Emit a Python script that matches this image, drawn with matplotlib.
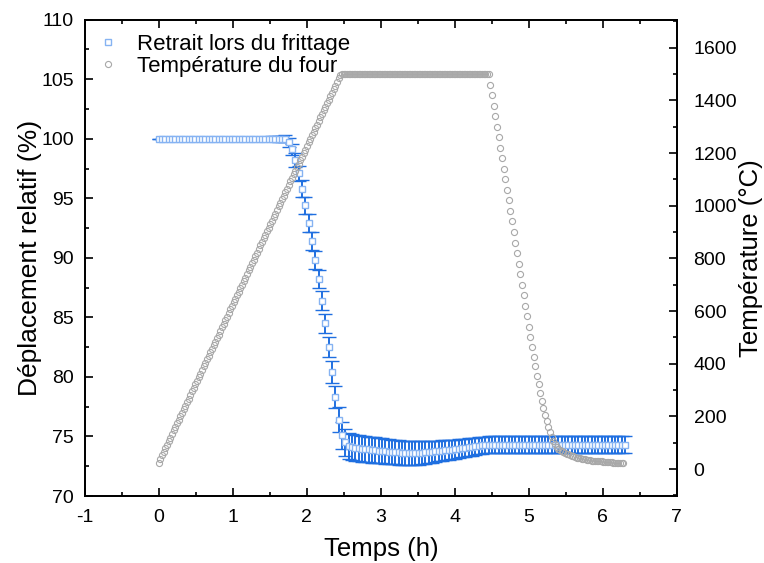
import numpy as np
import matplotlib
matplotlib.use("Agg")
import matplotlib.pyplot as plt
from matplotlib.ticker import MultipleLocator

plt.rcParams['font.family'] = ['Liberation Sans', 'DejaVu Sans']
plt.rcParams['axes.unicode_minus'] = False

dt_temp = 0.0225
dt_retrait = 0.045

# furnace temperature (°C), one value per sample
temp_ramp = [25, 39, 52, 66, 79, 93, 106, 120, 133, 147, 160, 174, 187, 201, 214, 228,
             241, 255, 268, 282, 295, 309, 322, 336, 349, 363, 376, 390, 403, 417, 430,
             444, 457, 471, 484, 498, 511, 525, 538, 552, 565, 579, 592, 606, 619, 633,
             646, 660, 673, 687, 700, 714, 727, 741, 754, 768, 781, 795, 808, 822, 835,
             849, 862, 876, 889, 903, 916, 930, 943, 957, 970, 984, 997, 1011, 1024, 1038,
             1051, 1065, 1078, 1092, 1105, 1119, 1132, 1146, 1159, 1173, 1186, 1200, 1213,
             1227, 1240, 1254, 1267, 1281, 1294, 1308, 1321, 1335, 1348, 1362, 1375, 1389,
             1402, 1416, 1429, 1443, 1456, 1470, 1483, 1497]
temp_palier = [1500] * 89
temp_refroid = [1460, 1420, 1380, 1340, 1300, 1260, 1220, 1180, 1140, 1100, 1060, 1020,
                980, 940, 900, 860, 820, 780, 740, 700, 660, 620, 580, 540, 500, 462, 425,
                390, 355, 322, 290, 260, 232, 206, 182, 160, 140, 122, 107, 95, 85, 78,
                73, 69, 65, 62, 59, 56, 53, 50, 48, 46, 44, 42, 41, 39, 38, 37, 35, 34, 33,
                32, 32, 31, 30, 30, 29, 29, 28, 28, 27, 27, 26, 26, 25, 25, 25, 24, 24, 24, 23]
temperature = temp_ramp + temp_palier + temp_refroid

# relative displacement (%) and its error
depl_avant = [100.0] * 38
depl_chute = [100.0, 99.7, 99.1, 98.2, 97.1, 95.8, 94.4, 92.9, 91.4, 89.8, 88.2, 86.4,
              84.5, 82.5, 80.4, 78.3, 76.4, 75.1, 74.5, 74.2]
depl_apres = [74.1, 74.05, 74.0, 73.97, 73.94, 73.91, 73.88, 73.85, 73.82, 73.79, 73.76,
              73.73, 73.7, 73.68, 73.66, 73.64, 73.62, 73.61, 73.6, 73.6, 73.61, 73.63,
              73.66, 73.69, 73.72, 73.75, 73.78, 73.81, 73.84, 73.87, 73.9, 73.94, 73.98,
              74.02, 74.06, 74.1, 74.14, 74.18, 74.22, 74.26, 74.29, 74.31] + [74.3] * 41
deplacement = depl_avant + depl_chute + depl_apres

err_avant = [0.0] * 20 + [0.08, 0.09, 0.10, 0.10, 0.11, 0.12, 0.12, 0.13, 0.14, 0.15,
                          0.16, 0.17, 0.18, 0.19, 0.20, 0.22, 0.24, 0.26]
err_chute = [0.3, 0.4, 0.5, 0.6, 0.65, 0.7, 0.72, 0.75, 0.75, 0.75, 0.76, 0.78, 0.8,
             0.85, 0.9, 0.95, 1.05, 1.15, 1.15, 1.12]
err_apres = [1.10, 1.10, 1.09, 1.09, 1.08, 1.08, 1.07, 1.07, 1.06, 1.06, 1.05, 1.05,
             1.04, 1.03, 1.03, 1.02, 1.01, 1.00, 0.99, 0.98, 0.97, 0.95, 0.94, 0.92,
             0.91, 0.89, 0.88, 0.86, 0.85, 0.83, 0.82, 0.80, 0.79, 0.78, 0.76, 0.75,
             0.74, 0.73, 0.72, 0.71, 0.70, 0.70] + [0.70] * 41
erreur = err_avant + err_chute + err_apres

t_temp = np.arange(len(temperature)) * dt_temp
t_depl = np.arange(len(deplacement)) * dt_retrait

bleu_fonce = '#1f6fe0'
bleu_clair = '#86b3f2'
gris = '#a8a8a8'

fig = plt.figure(figsize=(7.64, 5.63), dpi=100)
ax = fig.add_axes([0.111, 0.119, 0.775, 0.846])
ax2 = ax.twinx()

eb = ax.errorbar(t_depl, deplacement, yerr=erreur, fmt='s', ms=4.3, mfc='white',
                 mec=bleu_clair, mew=1.0, ecolor=bleu_fonce, elinewidth=1.4, capsize=5.0,
                 capthick=1.4, label='Retrait lors du frittage')
ax2.plot(t_temp, temperature, 'o', ms=4.4, mfc='none', mec=gris, mew=0.8,
         label='Température du four')

ax.set_xlim(-1, 7)
ax.set_ylim(70, 110)
ax2.set_ylim(-102, 1706)
ax.xaxis.set_major_locator(MultipleLocator(1))
ax.xaxis.set_minor_locator(MultipleLocator(0.5))
ax.yaxis.set_major_locator(MultipleLocator(5))
ax.yaxis.set_minor_locator(MultipleLocator(2.5))
ax2.yaxis.set_major_locator(MultipleLocator(200))
ax2.yaxis.set_minor_locator(MultipleLocator(100))

ax.tick_params(which='both', direction='in', top=True, width=1.2, labelsize=14)
ax.tick_params(axis='x', pad=9)
ax.tick_params(axis='y', pad=8)
ax.tick_params(which='major', length=6)
ax.tick_params(which='minor', length=3)
ax2.tick_params(which='both', direction='in', width=1.2, labelsize=14, pad=12)
ax2.tick_params(which='major', length=6)
ax2.tick_params(which='minor', length=3)
for a in (ax, ax2):
    for s in a.spines.values():
        s.set_linewidth(1.3)

ax.set_xlabel('Temps (h)', fontsize=18.5, labelpad=8)
ax.set_ylabel('Déplacement relatif (%)', fontsize=19, labelpad=-1)
ax2.set_ylabel('Température (°C)', fontsize=18.5, labelpad=1)

h2, l2 = ax2.get_legend_handles_labels()
ax2.legend([eb[0]] + h2, ['Retrait lors du frittage'] + l2, loc='upper left',
           bbox_to_anchor=(0.006, 0.989), frameon=False, fontsize=16,
           handlelength=1.0, handletextpad=0.8, labelspacing=0.05,
           borderaxespad=0.0, numpoints=1)

fig.savefig('out.png', dpi=100)
